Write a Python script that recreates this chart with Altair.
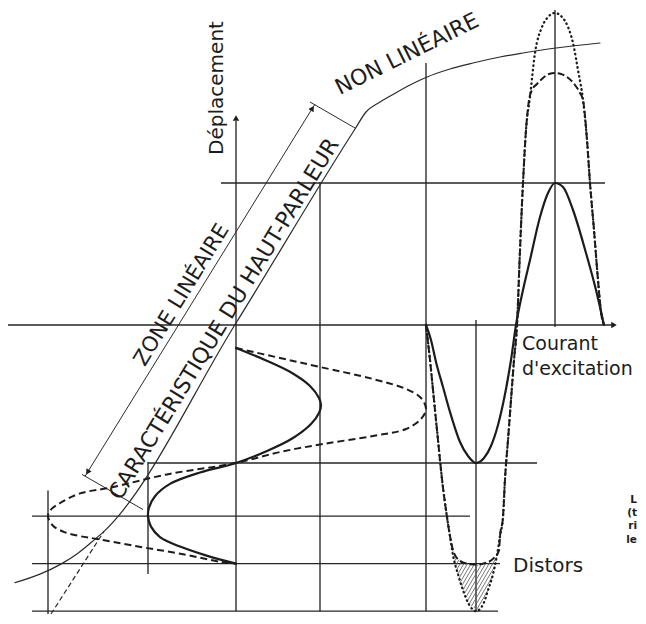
import altair as alt
import pandas as pd
import numpy as np

# Frame: x = excitation current (right), y = cone displacement (up); origin = axes crossing
W, H = 630, 608
X_DOMAIN = [-228, 402]
X_RANGE = [0, 630]
# piecewise vertical scale: 1:1 above, slightly compressed in the lowest band so it fits the page
Y_DOMAIN = [-297, -138, 317]
Y_RANGE = [606, 455, 0]
INK = "#1c1c1c"
FONT = "DejaVu Sans"

# ---- loudspeaker characteristic (thin solid) ----
char_x = [-221, -196, -176, -158, -144, -132, 0, 119, 130, 144, 156, 174, 191, 214, 237, 264, 287, 320, 364]
char_y = [-264, -255, -245, -233, -221, -210, 2, 196, 213, 223, 230, 240, 248, 256, 262, 268, 272, 277, 282]
# linear extension (thin dashed)
ext_x = [-185, -132]
ext_y = [-297, -210]

# ---- input current, small signal (solid), time running downward ----
in_small_x = [0, 29, 56, 74, 83, 85, 83, 75, 57, 31, 0, -36, -66, -81, -87, -88, -85, -76, -56, -31, 0]
in_small_y = [-23, -35, -48, -61, -73, -80, -88, -99, -113, -126, -138, -148, -160, -173, -185, -194, -205, -216, -226, -235, -244]
# ---- input current, large signal (dashed) ----
in_large_x = [0, 44, 84, 137, 170, 185, 190, 185, 170, 137, 87, 44, 0, -69, -126, -156, -174, -185, -188, -183, -171, -156, -139, -103, -53, -16, 0]
in_large_y = [-23, -33, -42, -54, -64, -73, -84, -94, -104, -111, -119, -127, -138, -150, -164, -170, -179, -187, -194, -204, -211, -215, -218, -225, -234, -242, -244]

# ---- output displacement, small signal (solid), time running right ----
out_small_x = [190, 195, 200, 207, 214, 224, 232, 240, 248, 255, 262, 270, 275, 280, 287, 294, 304, 312, 319, 327, 337, 350, 360, 368]
out_small_y = [0, -15, -37, -62, -87, -117, -131, -138, -133, -121, -100, -64, -35, 0, 35, 65, 108, 132, 142, 138, 115, 72, 35, 0]

# ---- output, large signal, ideal linear response (dotted) ----
out_ideal_x = [190, 194, 198, 202, 206, 211, 214, 217, 222, 227, 233, 240, 247, 252, 257, 261, 264, 267, 269, 272,
               275, 278, 281, 284, 287, 290, 294, 299, 306, 312, 319, 326, 332, 337, 342, 347, 351, 354, 358, 362, 365, 368]
out_ideal_y = [0, -35, -75, -115, -155, -195, -215, -235, -255, -272, -287, -294, -287, -272, -255, -235, -215, -195, -155, -115,
               -75, -35, 0, 75, 142, 195, 228, 272, 298, 308, 312, 308, 298, 282, 255, 225, 185, 142, 95, 45, 13, 0]

# ---- output, large signal, actual response with compression (dashed) ----
out_real_x = [190, 194, 198, 202, 206, 211, 214, 218, 224, 231, 240, 250, 258, 263, 264, 267, 269, 272,
              275, 278, 281, 284, 287, 290, 293, 296, 301, 307, 313, 319, 325, 331, 339, 344, 347, 351, 354, 358, 362, 365, 368]
out_real_y = [0, -35, -75, -115, -155, -195, -215, -233, -241, -244, -245, -243, -238, -230, -215, -195, -155, -115,
              -75, -35, 0, 75, 142, 195, 225, 235, 241, 247, 251, 252, 251, 248, 240, 232, 225, 185, 142, 95, 45, 13, 0]

# ---- construction lines ----
h_y = [142, 0, -138, -194, -244, -294]
h_x1 = [-15, -228, -88, -204, -204, -204]
h_x2 = [369, 376, 301, 234, 264, 262]
v_x = [0, 84, 190, 240, 319, -88, -188]
v_y1 = [204, 143, 262, 5, 315, -137, -167]
v_y2 = [-294, -294, -294, -295, -2, -255, -297]

# dimension line "zone linéaire" and its extension lines
dim_x = [-151, 79]
dim_y = [-152, 221]
dimext_x1 = [-154, 74]
dimext_y1 = [-150, 223]
dimext_x2 = [-93, 119]
dimext_y2 = [-187, 197]
dim_head_x = [-148.4, 76.4]
dim_head_y = [-147.7, 216.7]
dim_head_angle = [211.7, 31.7]

# axis arrowheads
axhead_x = [0, 378]
axhead_y = [207, 0]
axhead_shape = ["triangle-up", "triangle-right"]

# labels
labels = [
    # text, x, y, angle, size, align, baseline, weight
    ("Déplacement", -19, 237, 270, 20, "center", "middle", "normal"),
    ("NON LINÉAIRE", 171, 271, 333.6, 22, "center", "middle", "normal"),
    ("ZONE LINÉAIRE", -54, 30, 301.5, 21, "center", "middle", "normal"),
    ("CARACTÉRISTIQUE DU HAUT-PARLEUR", -12, 6, 301.5, 22, "center", "middle", "normal"),
    ("Courant", 286, -25, 0, 19, "left", "alphabetic", "normal"),
    ("d'excitation", 286, -50, 0, 19, "left", "alphabetic", "normal"),
    ("Distors", 277, -253, 0, 20, "left", "alphabetic", "normal"),
    ("L", 401, -180, 0, 10.5, "right", "alphabetic", "bold"),
    ("(t", 401, -194, 0, 10.5, "right", "alphabetic", "bold"),
    ("ri", 401, -208, 0, 10.5, "right", "alphabetic", "bold"),
    ("le", 401, -222, 0, 10.5, "right", "alphabetic", "bold"),
]

xs = alt.Scale(domain=X_DOMAIN, range=X_RANGE, nice=False, zero=False)
ys = alt.Scale(domain=Y_DOMAIN, range=Y_RANGE, nice=False, zero=False)
X = lambda f: alt.X(f, scale=xs, axis=None)
Y = lambda f: alt.Y(f, scale=ys, axis=None)


def curve(name, cx, cy):
    return pd.DataFrame({"curve": name, "k": range(len(cx)), "x": cx, "y": cy})


def line_layer(df, width, dash=None, interp="linear", color=INK, cap="butt"):
    kw = dict(strokeWidth=width, color=color, interpolate=interp, clip=False, strokeCap="round", strokeJoin="round")
    if dash:
        kw["strokeDash"] = dash
        kw["strokeCap"] = cap
    return alt.Chart(df).mark_line(**kw).encode(x=X("x:Q"), y=Y("y:Q"), detail="curve:N", order="k:Q")


def rule_layer(df, width, color=INK, dash=None):
    kw = dict(strokeWidth=width, color=color, clip=False)
    if dash:
        kw["strokeDash"] = dash
    return alt.Chart(df).mark_rule(**kw).encode(x=X("x:Q"), y=Y("y:Q"), x2="x2:Q", y2="y2:Q")


grid = pd.concat([
    pd.DataFrame({"x": h_x1, "x2": h_x2, "y": h_y, "y2": h_y}),
    pd.DataFrame({"x": v_x, "x2": v_x, "y": v_y1, "y2": v_y2}),
])
dims = pd.concat([
    pd.DataFrame({"x": [dim_x[0]], "x2": [dim_x[1]], "y": [dim_y[0]], "y2": [dim_y[1]]}),
    pd.DataFrame({"x": dimext_x1, "x2": dimext_x2, "y": dimext_y1, "y2": dimext_y2}),
])

# hatching of the distortion area (between ideal and actual bottoms)
hx = np.arange(212, 268, 0.25)
top = np.interp(hx, out_real_x, out_real_y)
bot = np.interp(hx, out_ideal_x, out_ideal_y)
segs = []
m = 1.8
for c in np.arange(150, 300, 3.6):
    yl = -300 + m * (hx - c)
    ok = (yl <= top) & (yl >= bot)
    if ok.sum() > 1:
        xi = hx[ok]
        segs.append((xi.min(), -300 + m * (xi.min() - c), xi.max(), -300 + m * (xi.max() - c)))
hatch = pd.DataFrame(segs, columns=["x", "y", "x2", "y2"])

layers = [
    rule_layer(grid, 1.35, color="#262626"),
    rule_layer(hatch, 0.8, color="#555555"),
    rule_layer(dims, 1.0, color="#2b2b2b"),
    line_layer(curve("char", char_x, char_y), 1.2, interp="monotone", color="#2b2b2b"),
    line_layer(curve("ext", ext_x, ext_y), 1.2, dash=[5, 3], color="#2b2b2b"),
    line_layer(curve("in_large", in_large_x, in_large_y), 2.0, dash=[7, 4], interp="catmull-rom"),
    line_layer(curve("in_small", in_small_x, in_small_y), 2.2, interp="catmull-rom"),
    line_layer(curve("out_ideal", out_ideal_x, out_ideal_y), 2.3, dash=[0.5, 4], interp="monotone", cap="round"),
    line_layer(curve("out_real", out_real_x, out_real_y), 2.0, dash=[7, 3], interp="monotone"),
    line_layer(curve("out_small", out_small_x, out_small_y), 2.2, interp="monotone"),
    alt.Chart(pd.DataFrame({"x": dim_head_x, "y": dim_head_y, "a": dim_head_angle}))
    .mark_point(shape="triangle-up", filled=True, size=38, color=INK, opacity=1, clip=False)
    .encode(x=X("x:Q"), y=Y("y:Q"), angle=alt.Angle("a:Q", scale=None)),
]
for i, shp in enumerate(axhead_shape):
    layers.append(
        alt.Chart(pd.DataFrame({"x": [axhead_x[i]], "y": [axhead_y[i]]}))
        .mark_point(shape=shp, filled=True, size=40, color=INK, opacity=1, clip=False)
        .encode(x=X("x:Q"), y=Y("y:Q"))
    )
for t, lx, ly, ang, sz, al, bl, wt in labels:
    layers.append(
        alt.Chart(pd.DataFrame({"x": [lx], "y": [ly], "t": [t]}))
        .mark_text(font=FONT, fontSize=sz, angle=ang, align=al, baseline=bl, fontWeight=wt, color=INK, clip=False)
        .encode(x=X("x:Q"), y=Y("y:Q"), text="t:N")
    )

chart = (
    alt.layer(*layers)
    .properties(width=W, height=H, padding=0, autosize=alt.AutoSizeParams(type="none"), background="white")
    .configure_view(stroke=None)
)
chart.save("out.html", embed_options={"renderer": "svg", "actions": False})
